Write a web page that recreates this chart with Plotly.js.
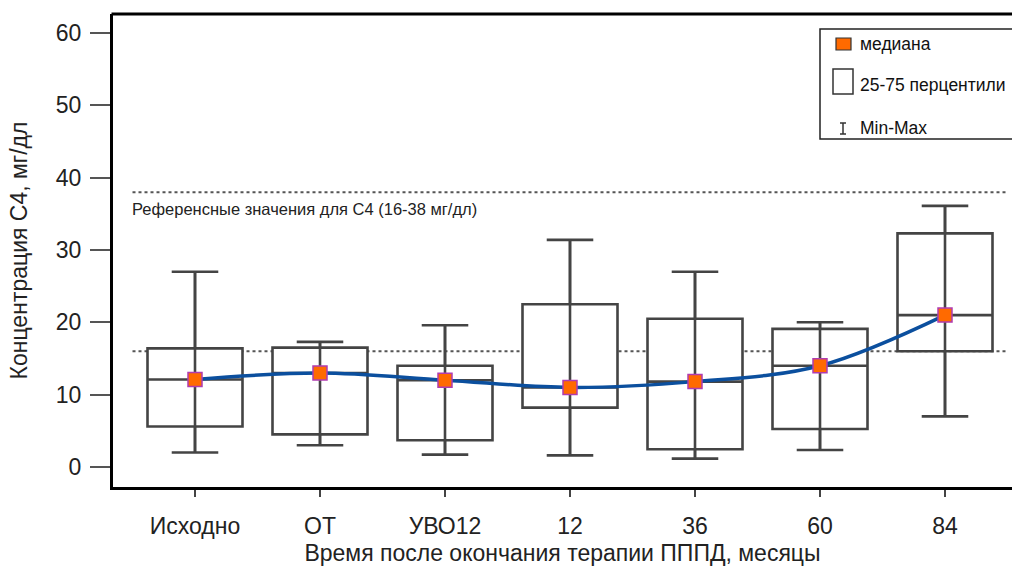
<!DOCTYPE html>
<html><head><meta charset="utf-8">
<script src="https://cdn.plot.ly/plotly-3.0.1.min.js"></script>
<style>html,body{margin:0;padding:0;overflow:hidden;background:#fff}</style>
</head><body><div id="chart" style="width:1012px;height:571px"></div>
<script>
const categories = ['Исходно','ОТ','УВО12','12','36','60','84'];
const minVals    = [2.0, 3.0, 1.7, 1.6, 1.15, 2.35, 7.0];
const q1Vals     = [5.6, 4.5, 3.7, 8.2, 2.45, 5.25, 16.0];
const medianVals = [12.1, 13.0, 12.0, 11.0, 11.8, 14.0, 21.0];
const q3Vals     = [16.4, 16.5, 14.0, 22.5, 20.5, 19.1, 32.3];
const maxVals    = [27.0, 17.3, 19.6, 31.4, 27.0, 20.0, 36.1];
const refLow = 16, refHigh = 38;
const yTicks = [0, 10, 20, 30, 40, 50, 60];
const refText = 'Референсные значения для С4 (16-38 мг/дл)';
const legendLabels = ['медиана', '25-75 перцентили', 'Min-Max'];
const xTitle = 'Время после окончания терапии ПППД, месяцы';
const yTitle = 'Концентрация С4, мг/дл';

const W = 1012, H = 571, ML = 113, MR = 0, MT = 14, MB = 84;
const PW = W - ML - MR, PH = H - MT - MB;
const px = x => (x - ML) / PW;
const py = y => (H - MB - y) / PH;

const FONT = 'Liberation Sans, Arial, sans-serif';
const boxColor = '#444444';

// vertical lines through boxes
const vx = [], vy = [];
categories.forEach((c, i) => { vx.push(c, c, null); vy.push(minVals[i], maxVals[i], null); });

const traces = [
  {
    type: 'box', x: categories, q1: q1Vals, median: medianVals, q3: q3Vals,
    lowerfence: minVals, upperfence: maxVals, boxpoints: false,
    width: 0.76, whiskerwidth: 0.49, fillcolor: '#ffffff',
    line: {color: boxColor, width: 2.6}, showlegend: false, hoverinfo: 'skip'
  },
  {
    type: 'scatter', mode: 'lines', x: vx, y: vy, connectgaps: false,
    line: {color: boxColor, width: 2.6}, showlegend: false, hoverinfo: 'skip'
  },
  {
    type: 'scatter', mode: 'lines', x: categories, y: medianVals,
    line: {color: '#0b4f9e', width: 3.5, shape: 'spline', smoothing: 1},
    showlegend: false
  },
  {
    type: 'scatter', mode: 'markers', x: categories, y: medianVals,
    marker: {symbol: 'square', size: 14, color: '#ff6a00', line: {color: '#b03cb0', width: 1.5}},
    showlegend: false
  }
];

const shapes = [
  {type: 'line', xref: 'x', yref: 'y', x0: -0.5, x1: 6.5, y0: refHigh, y1: refHigh, layer: 'below',
   line: {color: '#555', width: 2, dash: 'dot'}},
  {type: 'line', xref: 'x', yref: 'y', x0: -0.5, x1: 6.5, y0: refLow, y1: refLow, layer: 'below',
   line: {color: '#555', width: 2, dash: 'dot'}},
  // top frame line
  {type: 'line', xref: 'paper', yref: 'paper', x0: px(111.5), x1: px(1020), y0: 1, y1: 1,
   line: {color: '#000', width: 3}, layer: 'above'},
  // legend frame (runs past the right edge)
  {type: 'rect', xref: 'paper', yref: 'paper', x0: px(820), x1: px(1030), y0: py(29), y1: py(139),
   line: {color: '#222', width: 1.5}, fillcolor: '#ffffff', layer: 'above'},
  {type: 'rect', xref: 'paper', yref: 'paper', x0: px(836), x1: px(851), y0: py(38), y1: py(50),
   line: {color: '#333', width: 1.2}, fillcolor: '#ff6a00', layer: 'above'},
  {type: 'rect', xref: 'paper', yref: 'paper', x0: px(833), x1: px(853), y0: py(69), y1: py(94),
   line: {color: '#333', width: 1.5}, fillcolor: '#ffffff', layer: 'above'},
  {type: 'line', xref: 'paper', yref: 'paper', x0: px(843), x1: px(843), y0: py(123), y1: py(134),
   line: {color: '#333', width: 1.5}, layer: 'above'},
  {type: 'line', xref: 'paper', yref: 'paper', x0: px(840), x1: px(846), y0: py(123), y1: py(123),
   line: {color: '#333', width: 1.5}, layer: 'above'},
  {type: 'line', xref: 'paper', yref: 'paper', x0: px(840), x1: px(846), y0: py(134), y1: py(134),
   line: {color: '#333', width: 1.5}, layer: 'above'}
];

const legendY = [44, 85, 128];
const annotations = [
  {xref: 'paper', yref: 'paper', x: px(130), y: py(209), xanchor: 'left', yanchor: 'middle',
   text: refText, showarrow: false, font: {family: FONT, size: 16.5, color: '#222'}}
].concat(legendLabels.map((t, i) => ({
  xref: 'paper', yref: 'paper', x: px(858), y: py(legendY[i]), xanchor: 'left', yanchor: 'middle',
  text: t, showarrow: false, font: {family: FONT, size: 17.5, color: '#111'}
})));

const layout = {
  width: W, height: H,
  margin: {l: ML, r: MR, t: MT, b: MB},
  paper_bgcolor: '#fff', plot_bgcolor: '#fff',
  font: {family: FONT, color: '#222'},
  showlegend: false,
  xaxis: {
    type: 'category', range: [-0.656, -0.656 + PW / 125], showgrid: false, zeroline: false,
    showline: true, linecolor: '#000', linewidth: 3,
    ticks: 'outside', ticklen: 7, tickwidth: 1.5, tickcolor: '#444',
    tickfont: {family: FONT, size: 23, color: '#222'}, ticklabelstandoff: 9,
    title: {text: xTitle, font: {family: FONT, size: 23, color: '#222'}, standoff: 8},
    automargin: false
  },
  yaxis: {
    range: [-2.77, 62.63], tickvals: yTicks, showgrid: false, zeroline: false,
    showline: true, linecolor: '#000', linewidth: 3,
    ticks: 'outside', ticklen: 20, tickwidth: 2, tickcolor: '#555',
    tickfont: {family: FONT, size: 23, color: '#222'}, ticklabelstandoff: 4,
    title: {text: yTitle, font: {family: FONT, size: 23, color: '#222'}, standoff: 22},
    automargin: false
  },
  shapes: shapes, annotations: annotations
};

Plotly.newPlot('chart', traces, layout, {displayModeBar: false, staticPlot: true});
</script></body></html>
